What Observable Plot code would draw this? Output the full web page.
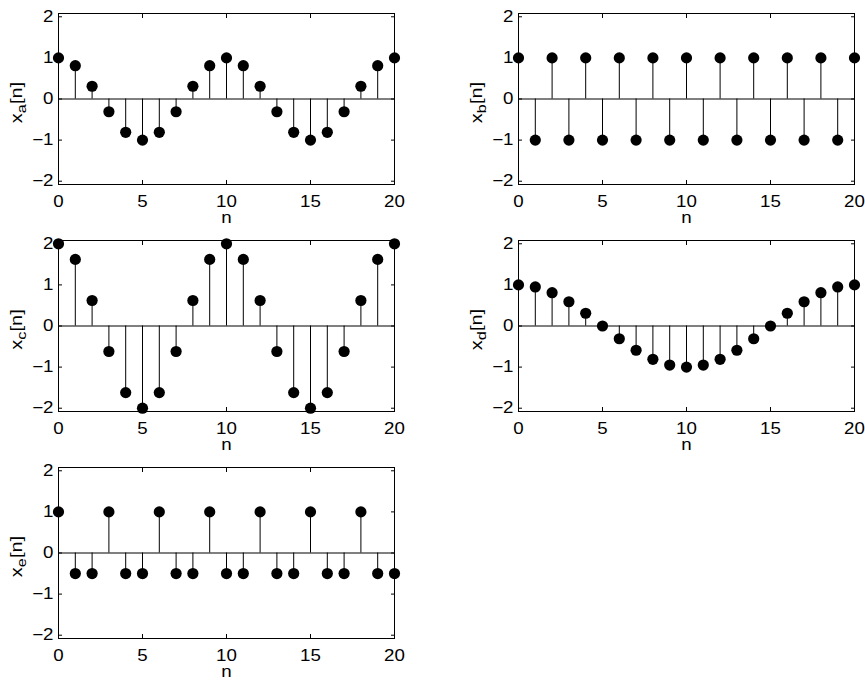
<!DOCTYPE html>
<html><head><meta charset="utf-8">
<script src="https://cdn.jsdelivr.net/npm/d3@7"></script>
<script src="https://cdn.jsdelivr.net/npm/@observablehq/plot@0.6"></script>
<style>
body{margin:0;background:#fff;}
#fig{position:relative;width:865px;height:683px;background:#fff;font-family:"Liberation Sans",Arial,Helvetica,sans-serif;}
.panel{position:absolute;}
</style></head><body><div id="fig"></div>
<script>
const n  = [0,1,2,3,4,5,6,7,8,9,10,11,12,13,14,15,16,17,18,19,20];
const xa = [1,0.81,0.31,-0.31,-0.81,-1,-0.81,-0.31,0.31,0.81,1,0.81,0.31,-0.31,-0.81,-1,-0.81,-0.31,0.31,0.81,1];
const xb = [1,-1,1,-1,1,-1,1,-1,1,-1,1,-1,1,-1,1,-1,1,-1,1,-1,1];
const xc = [2,1.62,0.62,-0.62,-1.62,-2,-1.62,-0.62,0.62,1.62,2,1.62,0.62,-0.62,-1.62,-2,-1.62,-0.62,0.62,1.62,2];
const xd = [1,0.95,0.81,0.59,0.31,0,-0.31,-0.59,-0.81,-0.95,-1,-0.95,-0.81,-0.59,-0.31,0,0.31,0.59,0.81,0.95,1];
const xe = [1,-0.5,-0.5,1,-0.5,-0.5,1,-0.5,-0.5,1,-0.5,-0.5,1,-0.5,-0.5,1,-0.5,-0.5,1,-0.5,-0.5];
const xTicks = [0,5,10,15,20];
const yTicks = [-2,-1,0,1,2];
const subs = ["a","b","c","d","e"];
const series = [xa,xb,xc,xd,xe];
const xLabel = "n";

const FONT = '"Liberation Sans",Arial,Helvetica,sans-serif';
const FS = 16;
const SX = 1.17;   // horizontal stretch of the lettering, as in the reference
const W = 404, H = 227, ML = 58, MR = 10, MT = 13, MB = 43;

function stretch(el, s) {
  const xs = el.x && el.x.baseVal && el.x.baseVal.numberOfItems ? el.x.baseVal.getItem(0).value : 0;
  const tr = el.getAttribute("transform") || "";
  el.setAttribute("transform", `${tr} translate(${xs},0) scale(${s},1) translate(${-xs},0)`);
}

function panel(values, sub) {
  const data = n.map((k, i) => ({n: k, v: values[i]}));
  const plot = Plot.plot({
    width: W, height: H, marginLeft: ML, marginRight: MR, marginTop: MT, marginBottom: MB,
    style: {fontFamily: FONT, fontSize: FS + "px", color: "#000", background: "#fff", overflow: "visible"},
    x: {domain: [0, 20], label: null},
    y: {domain: [-2.08, 2.08], label: null},
    marks: [
      Plot.frame({stroke: "#000"}),
      Plot.ruleY([0], {stroke: "#000"}),
      Plot.ruleX(data, {x: "n", y1: 0, y2: "v", stroke: "#000", strokeWidth: 1}),
      Plot.dot(data, {x: "n", y: "v", r: 5.6, fill: "#000", stroke: "none"}),
      Plot.axisX(xTicks, {anchor: "bottom", tickSize: -4, tickPadding: 15.5, label: null, fontSize: FS}),
      Plot.axisX(xTicks, {anchor: "top", tickSize: -4, tickFormat: () => "", label: null}),
      Plot.axisY(yTicks, {anchor: "left", tickSize: -4, tickPadding: 9, label: null, fontSize: FS}),
      Plot.axisY(yTicks, {anchor: "right", tickSize: -4, tickFormat: () => "", label: null}),
      Plot.text([xLabel], {frameAnchor: "bottom", dy: 38.5, text: d => d, fontSize: FS, fill: "#000"})
    ]
  });
  const svg = d3.select(plot);
  svg.selectAll("text").each(function() { stretch(this, SX); });
  const cy = MT + (H - MT - MB) / 2 + 4;
  const t = svg.append("text")
    .attr("transform", `translate(22,${cy}) rotate(-90) scale(1.25,1)`)
    .attr("text-anchor", "middle")
    .attr("font-family", FONT)
    .attr("font-size", FS)
    .attr("fill", "#000");
  t.append("tspan").text("x");
  t.append("tspan").attr("font-size", 13).attr("dy", 4).text(sub);
  t.append("tspan").attr("dy", -4).text("[n]");
  return plot;
}

const fig = document.getElementById("fig");
series.forEach((vals, i) => {
  const col = i % 2, row = Math.floor(i / 2);
  const div = document.createElement("div");
  div.className = "panel";
  div.style.left = (col * 460) + "px";
  div.style.top = (row * 227) + "px";
  div.appendChild(panel(vals, subs[i]));
  fig.appendChild(div);
});
</script></body></html>
